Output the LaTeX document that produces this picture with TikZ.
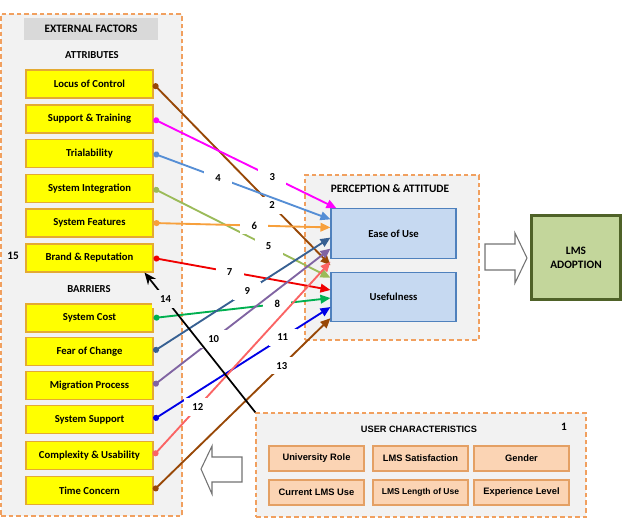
\documentclass[tikz,border=0pt]{standalone}
\usepackage{fontspec}
\setmainfont{Carlito}
\newfontfamily\arialfont{Liberation Sans}
\usetikzlibrary{arrows.meta, calc, positioning}

\definecolor{framebrd}{RGB}{241,160,95}
\definecolor{framebg}{RGB}{242,242,242}
\definecolor{headgray}{RGB}{217,217,217}
\definecolor{factorbrd}{RGB}{228,170,50}
\definecolor{factorfill}{RGB}{255,255,0}
\definecolor{perceptfill}{RGB}{198,217,241}
\definecolor{perceptbrd}{RGB}{79,129,189}
\definecolor{adoptfill}{RGB}{195,214,155}
\definecolor{adoptbrd}{RGB}{79,98,40}
\definecolor{userfill}{RGB}{251,212,180}
\definecolor{userbrd}{RGB}{228,160,100}
\definecolor{cBrown}{RGB}{152,72,7}
\definecolor{cMagenta}{RGB}{255,0,255}
\definecolor{cSky}{RGB}{85,142,213}
\definecolor{cOlive}{RGB}{155,187,89}
\definecolor{cOrange}{RGB}{247,160,60}
\definecolor{cRed}{RGB}{240,0,0}
\definecolor{cGreen}{RGB}{0,176,80}
\definecolor{cSteel}{RGB}{55,96,146}
\definecolor{cPurple}{RGB}{128,100,162}
\definecolor{cBlue}{RGB}{0,0,230}
\definecolor{cSalmon}{RGB}{250,100,100}

\tikzset{
  group/.style={draw=framebrd, fill=framebg, line width=1pt, dash pattern=on 3.5pt off 2.2pt, inner sep=0pt},
  factor/.style={draw=factorbrd, fill=factorfill, line width=0.8pt, minimum width=95.25pt, minimum height=21pt, inner sep=0pt, font=\bfseries\fontsize{8}{9.6}\selectfont},
  percept/.style={draw=perceptbrd, fill=perceptfill, line width=0.8pt, minimum width=93.75pt, minimum height=37pt, inner sep=0pt, font=\bfseries\fontsize{8}{9.6}\selectfont},
  usercell/.style={draw=userbrd, fill=userfill, line width=0.8pt, minimum width=71.25pt, minimum height=18.75pt, inner sep=0pt, font=\arialfont\bfseries\fontsize{7}{8.4}\selectfont},
  title/.style={inner sep=0pt, font=\bfseries\fontsize{8}{9.6}\selectfont},
  num/.style={fill=white, inner sep=0pt, minimum width=21pt, minimum height=13pt, text=black, font=\bfseries\fontsize{8}{9.6}\selectfont},
  link/.style={line width=1.4pt, {Circle[length=4.5pt]}-{Triangle[length=7.5pt,width=6.5pt]}},
  blockarrow/.style={draw=black!55, fill=white, line width=0.8pt},
}

\begin{document}
\begin{tikzpicture}[x=0.75pt,y=0.75pt,yscale=-1,xscale=1]
\useasboundingbox (0,0) rectangle (624,519);

%Shape: Rectangle (external factors)
\node [group, minimum width=135.75pt, minimum height=376.5pt] (external) at (91.5,265) {};
\node [fill=headgray, minimum width=100.5pt, minimum height=16.5pt, inner sep=0pt, font=\bfseries\fontsize{8.5}{10}\selectfont] (exthead) at (91,29) {EXTERNAL FACTORS};
% Text Node
\node [title] (attrib) at (92,55) {ATTRIBUTES};
\node [title] (barrier) at (89,289) {BARRIERS};
\node [title, font=\bfseries\fontsize{8.5}{10}\selectfont] (fifteen) at (13,256) {15};

% attribute boxes
\node [factor] (locus) at (89.5,84) {Locus of Control};
\node [factor] (support) at (89.5,119) {Support \& Training};
\node [factor] (trial) at (89.5,153.5) {Trialability};
\node [factor] (integr) at (89.5,188.5) {System Integration};
\node [factor] (features) at (89.5,223) {System Features};
\node [factor] (brand) at (89.5,258) {Brand \& Reputation};
% barrier boxes
\node [factor] (cost) at (89.5,318) {System Cost};
\node [factor] (fear) at (89.5,351.5) {Fear of Change};
\node [factor] (migr) at (89.5,385.5) {Migration Process};
\node [factor] (syssup) at (89.5,419.5) {System Support};
\node [factor] (complex) at (89.5,455.5) {Complexity \& Usability};
\node [factor] (timec) at (89.5,490.5) {Time Concern};

%Shape: Rectangle (perception)
\node [group, minimum width=130.5pt, minimum height=123.75pt] (percept) at (392,257.5) {};
\node [title, font=\bfseries\fontsize{8.5}{10}\selectfont] (perhead) at (390,189) {PERCEPTION \& ATTITUDE};
\node [percept] (ease) at (393.5,233.5) {Ease of Use};
\node [percept] (useful) at (393.5,297) {Usefulness};

%Shape: Rectangle (adoption)
\node [draw=adoptbrd, fill=adoptfill, line width=2.2pt, minimum width=67pt, minimum height=63pt, inner sep=0pt, align=center, font=\bfseries\fontsize{8.5}{10.5}\selectfont] (adopt) at (576,257.5) {LMS\\ADOPTION};

%Shape: Rectangle (user characteristics)
\node [group, minimum width=247.5pt, minimum height=78pt] (userchar) at (421,465) {};
\node [title, font=\arialfont\bfseries\fontsize{6.9}{8.4}\selectfont] (userhead) at (419,429) {USER CHARACTERISTICS};
\node [title, font=\bfseries\fontsize{8.5}{10}\selectfont] (one) at (564,427) {1};
\node [usercell] (role) at (316.5,458.5) {University Role};
\node [usercell] (satis) at (420.5,458.5) {LMS Satisfaction};
\node [usercell] (gender) at (521.5,458.5) {Gender};
\node [usercell] (curuse) at (316.5,492.5) {Current LMS Use};
\node [usercell, font=\arialfont\bfseries\fontsize{6.4}{8}\selectfont] (length) at (420.5,492.5) {LMS Length of Use};
\node [usercell] (exper) at (521.5,492.5) {Experience Level};

%Shape: Right Arrow
\draw [blockarrow] (485,244) -- (515,244) -- (515,233) -- (527,258) -- (515,283) -- (515,270) -- (485,270) -- cycle ;
%Shape: Left Arrow
\draw [blockarrow] (242,457) -- (212,457) -- (212,446) -- (201,469) -- (212,494) -- (212,482) -- (242,482) -- cycle ;

%Straight Lines
\draw [link, cBrown] (locus.east) -- node [num, pos=0.67] (n2) {2} ($(ease.north west)!0.5!(useful.south west)$);
\draw [link, cMagenta] (support.east) -- node [num, pos=0.65] (n3) {3} ($(ease.north west)+(6,0)$);
\draw [link, cSky] (trial.east) -- node [num, pos=0.365] (n4) {4} ($(ease.north west)!0.097!(useful.south west)$);
\draw [link, cOlive] (integr.east) -- node [num, pos=0.65] (n5) {5} ($(ease.north west)!0.61!(useful.south west)$);
\draw [link, cOrange] (features.east) -- node [num, pos=0.57] (n6) {6} ($(ease.north west)!0.168!(useful.south west)$);
\draw [link, cRed] (brand.east) -- node [num, pos=0.43] (n7) {7} ($(ease.north west)!0.717!(useful.south west)$);
\draw [link, cGreen] (cost.east) -- node [num, pos=0.70] (n8) {8} ($(ease.north west)!0.788!(useful.south west)$);
\draw [link, cSteel] (fear.east) -- node [num, pos=0.53] (n9) {9} ($(ease.north west)!0.257!(useful.south west)$);
\draw [link, cPurple] (migr.east) -- node [num, pos=0.34] (n10) {10} ($(ease.north west)!0.354!(useful.south west)$);
\draw [link, cBlue] (syssup.east) -- node [num, pos=0.73] (n11) {11} ($(ease.north west)!0.867!(useful.south west)$);
\draw [link, cSalmon] (complex.east) -- node [num, pos=0.25] (n12) {12} ($(ease.north west)!0.469!(useful.south west)$);
\draw [link, cBrown] (timec.east) -- node [num, pos=0.725] (n13) {13} ($(ease.north west)!0.965!(useful.south west)$);
\draw [line width=1.3pt, -{Stealth[length=9pt,width=7.5pt]}] (userchar.north west) -- node [num, fill=framebg, pos=0.81] (n14) {14} ($(brand.south east)+(-9,0)$);

\end{tikzpicture}
\end{document}
